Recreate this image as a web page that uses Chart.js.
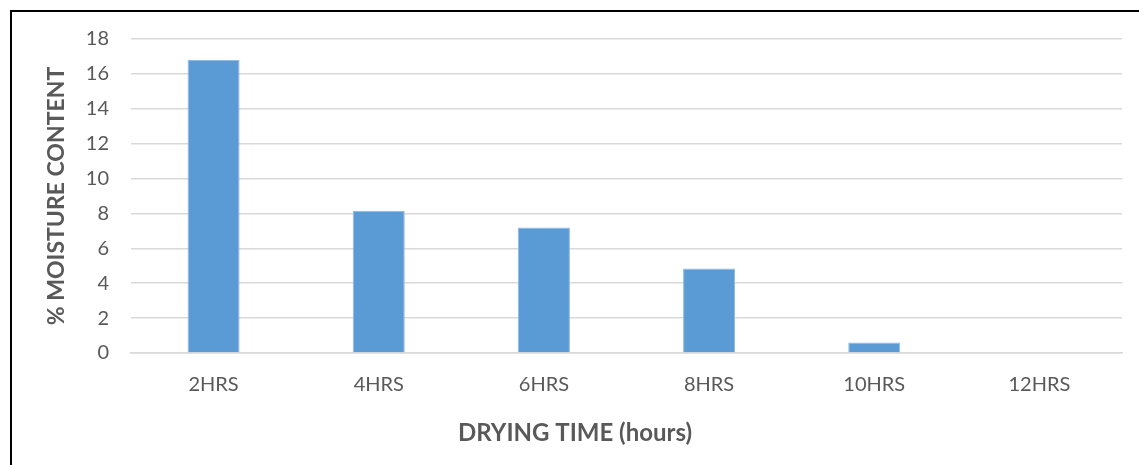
<!DOCTYPE html>
<html>
<head>
<meta charset="utf-8">
<script src="https://cdn.jsdelivr.net/npm/chart.js@4"></script>
<style>
  html, body { margin: 0; padding: 0; background: #fff; overflow: hidden; }
  #wrap { position: relative; width: 1139px; height: 465px; }
  #frame { position: absolute; left: 10px; top: 10px; width: 1140px; height: 470px; border: 2px solid #000; box-sizing: border-box; pointer-events: none; }
  canvas { position: absolute; left: 0; top: 0; }
</style>
</head>
<body>
<div id="wrap">
  <canvas id="moistureChart" width="1139" height="465"></canvas>
  <div id="frame"></div>
</div>
<script>
const dryingTimes = ['2HRS', '4HRS', '6HRS', '8HRS', '10HRS', '12HRS'];
const moistureContent = [16.8, 8.15, 7.2, 4.85, 0.6, 0];
const yTicks = [0, 2, 4, 6, 8, 10, 12, 14, 16, 18];
const xTitle = 'DRYING TIME (hours)';

const textColor = '#595959';
const gridColor = '#D9D9D9';
const fontFamily = 'Lato, "Noto Sans", sans-serif';

// x title is centred on the whole frame, not on the plot area
const xTitlePlugin = {
    id: 'xTitle',
    afterDraw(chart) {
        const c = chart.ctx;
        c.save();
        c.font = 'bold 24px ' + fontFamily;
        c.fillStyle = textColor;
        c.textAlign = 'center';
        c.textBaseline = 'middle';
        c.fillText(xTitle, 575, 433);
        c.restore();
    }
};

const ctx = document.getElementById('moistureChart').getContext('2d');
const chart = new Chart(ctx, {
    type: 'bar',
    data: {
        labels: dryingTimes,
        datasets: [{
            label: '% MOISTURE CONTENT',
            data: moistureContent,
            backgroundColor: '#5B9BD5',
            borderColor: '#8FBAE3',
            borderWidth: 1,
            categoryPercentage: 1,
            barPercentage: 0.315
        }]
    },
    plugins: [xTitlePlugin],
    options: {
        responsive: false,
        animation: false,
        layout: {
            padding: { left: 0, right: 17, top: 39, bottom: 0 }
        },
        plugins: {
            legend: { display: false },
            tooltip: { enabled: false }
        },
        scales: {
            x: {
                afterFit: function(scale) { scale.height = 112; },
                grid: { display: false, drawTicks: false },
                border: { display: true, color: gridColor, width: 1.5 },
                ticks: {
                    color: textColor,
                    padding: 20,
                    font: { family: fontFamily, size: 20 }
                }
            },
            y: {
                min: 0,
                max: 18,
                afterFit: function(scale) { scale.width = 131; },
                afterBuildTicks: function(scale) {
                    scale.ticks = yTicks.map(v => ({ value: v }));
                },
                grid: { color: gridColor, lineWidth: 1.5, drawTicks: false },
                border: { display: false },
                ticks: {
                    color: textColor,
                    padding: 22,
                    font: { family: fontFamily, size: 20 }
                },
                title: {
                    display: true,
                    text: '% MOISTURE CONTENT',
                    color: textColor,
                    padding: { top: 43, bottom: 0 },
                    font: { family: fontFamily, size: 23, weight: 'bold' }
                }
            }
        }
    }
});
</script>
</body>
</html>
